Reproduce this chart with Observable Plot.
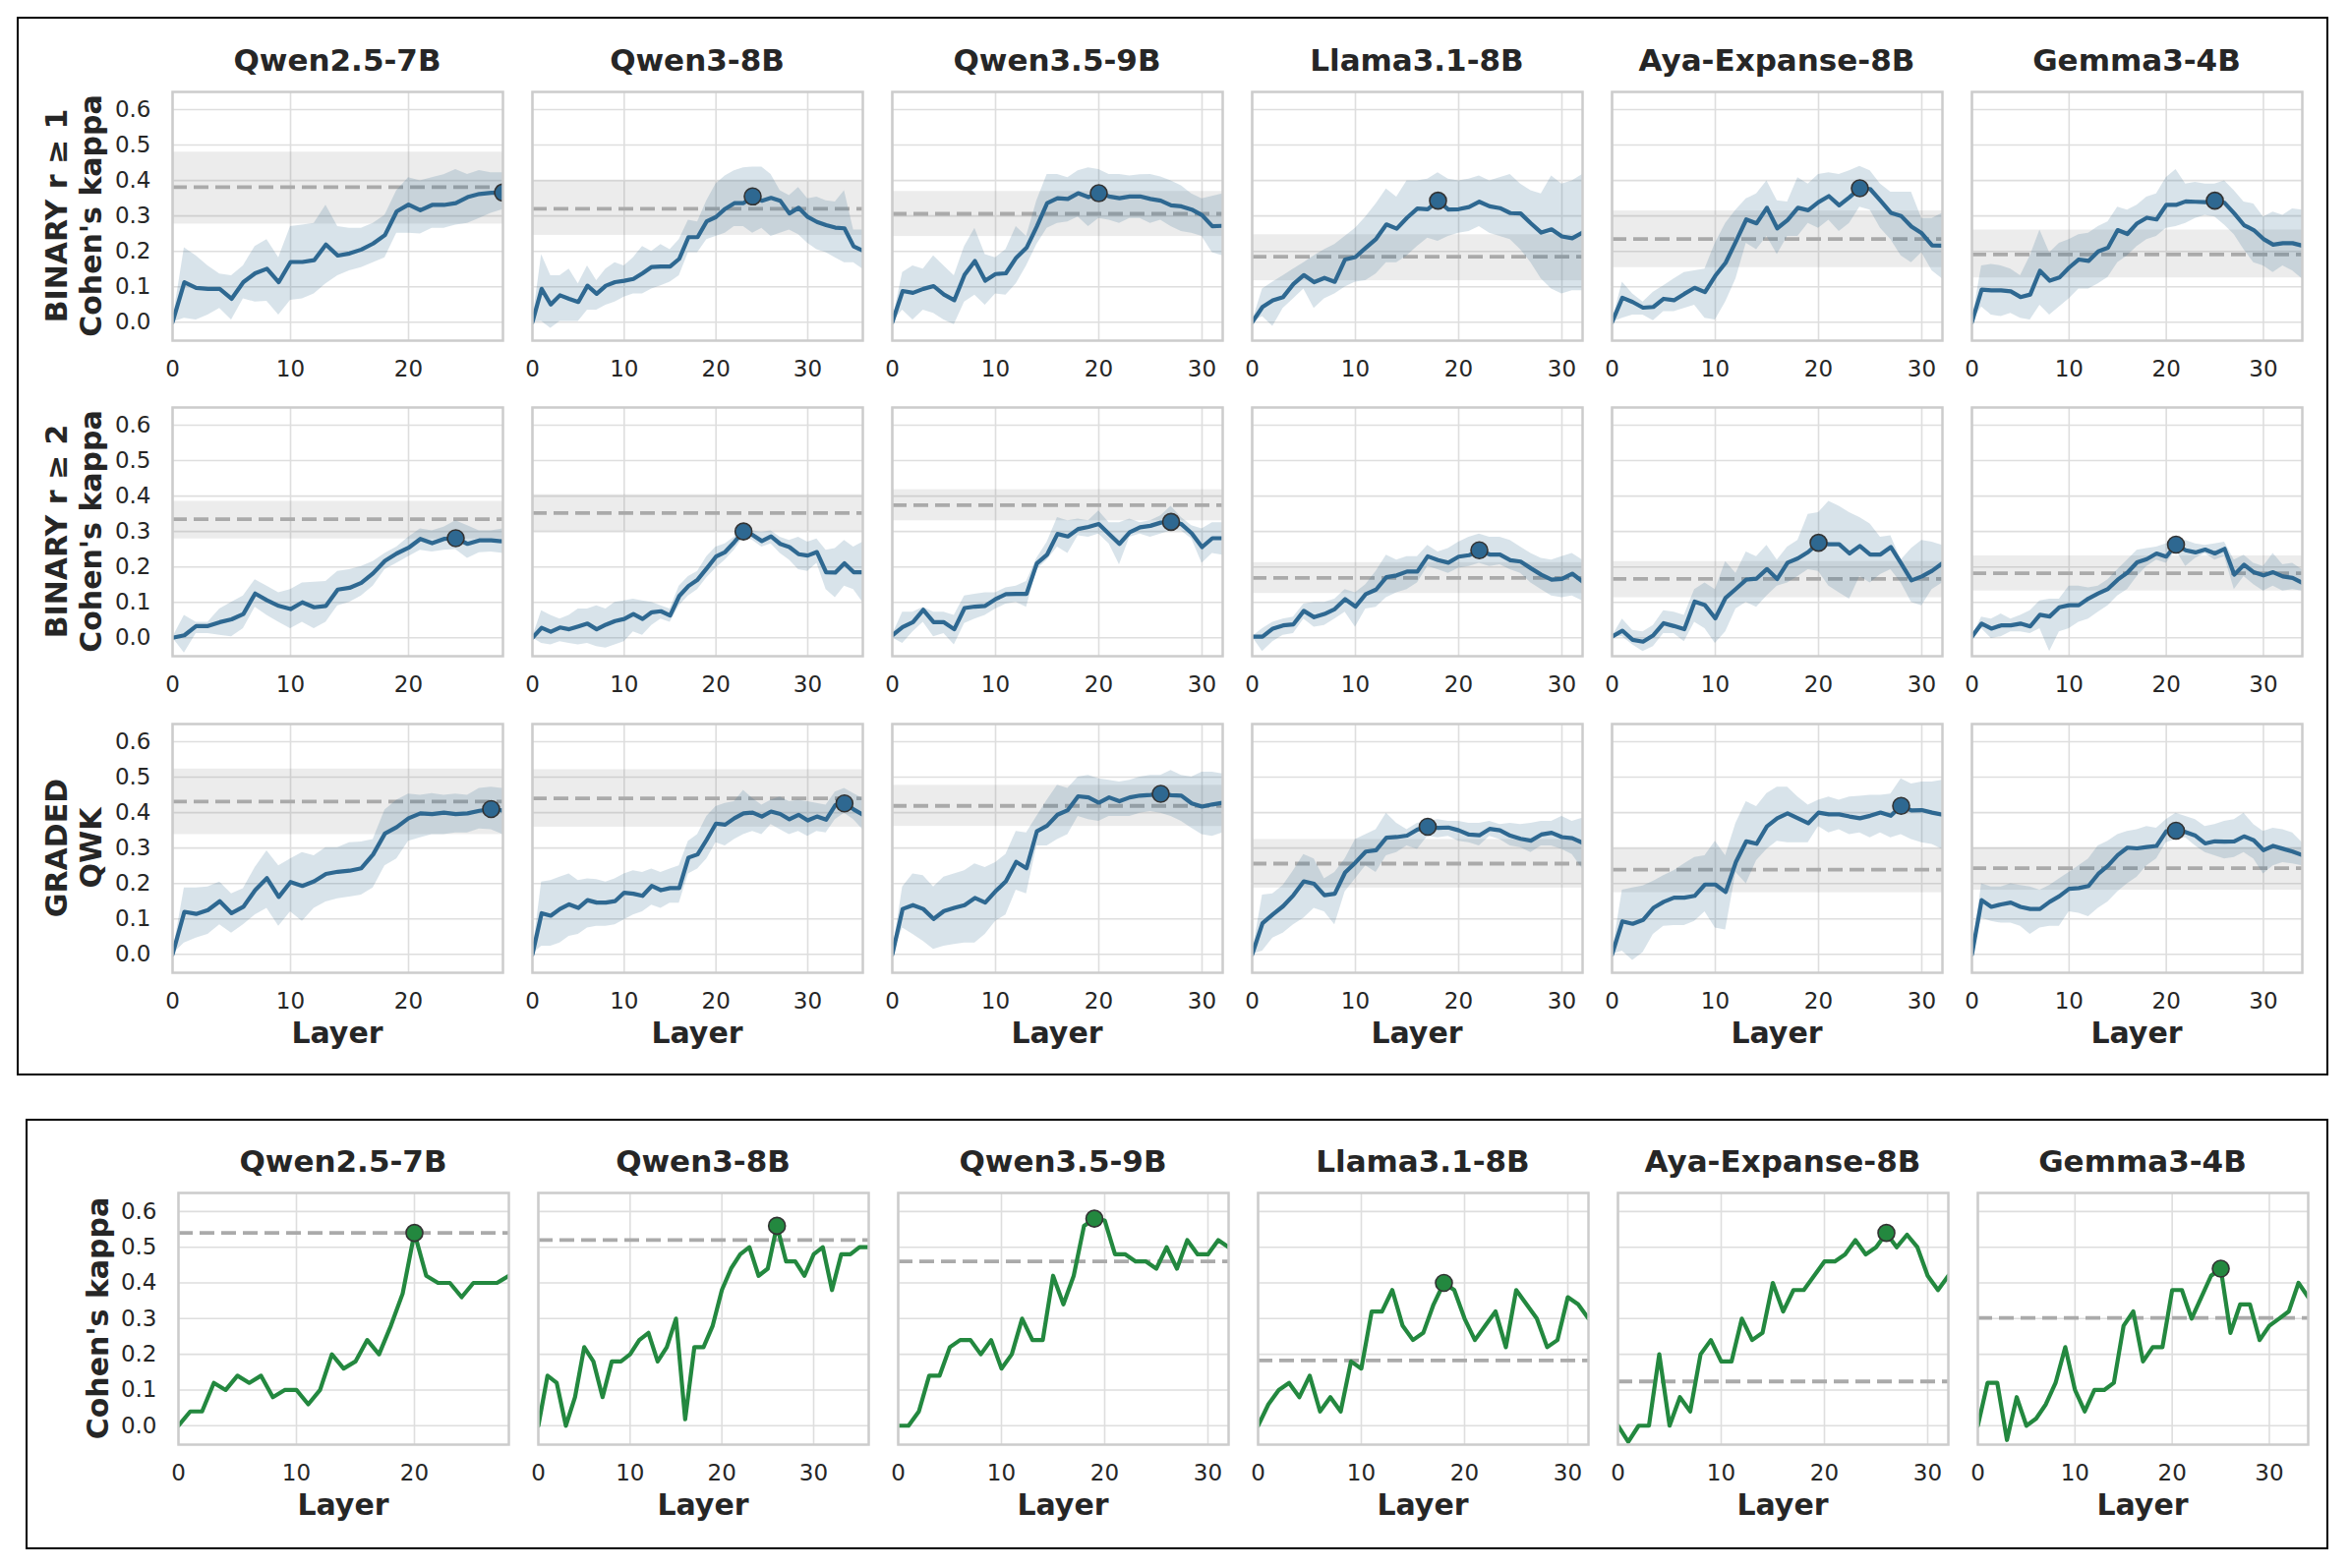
<!DOCTYPE html>
<html><head><meta charset="utf-8">
<script src="https://cdn.jsdelivr.net/npm/d3@7"></script>
<script src="https://cdn.jsdelivr.net/npm/@observablehq/plot@0.6"></script>
<style>
html,body{margin:0;padding:0;background:#fff;overflow:hidden;}
#root{position:relative;width:2390px;height:1595px;font-family:"DejaVu Sans",sans-serif;}
#root svg{position:absolute;}
</style></head><body><div id="root"></div>
<script>
// ---------------- data ----------------
const models = ["Qwen2.5-7B", "Qwen3-8B", "Qwen3.5-9B", "Llama3.1-8B", "Aya-Expanse-8B", "Gemma3-4B"];
const lastLayer = [28, 36, 32, 32, 32, 34];
const yTicks = [0, 0.1, 0.2, 0.3, 0.4, 0.5, 0.6];
const xTickValues = [0, 10, 20, 30];
const rowLabels = [["BINARY r \u2265 1", "Cohen's kappa"], ["BINARY r \u2265 2", "Cohen's kappa"], ["GRADED", "QWK"]];
const bottomLabel = "Cohen's kappa";
const xLabel = "Layer";

// Row 1: BINARY r >= 1
const b1Mean = [
 [0,.113,.097,.094,.094,.066,.113,.138,.151,.113,.17,.17,.175,.219,.188,.194,.205,.222,.246,.313,.332,.316,.331,.331,.336,.353,.362,.365,.366],
 [0,.094,.05,.076,.066,.057,.103,.08,.103,.113,.117,.122,.138,.156,.157,.157,.179,.24,.24,.285,.297,.32,.336,.336,.355,.343,.351,.343,.307,.323,.297,.283,.274,.267,.265,.214,.202],
 [0,.088,.083,.094,.102,.078,.062,.134,.173,.117,.136,.138,.182,.21,.27,.336,.35,.348,.364,.353,.364,.355,.35,.355,.355,.348,.343,.33,.327,.318,.302,.271,.272],
 [0,.043,.062,.071,.108,.133,.113,.125,.114,.177,.184,.21,.235,.276,.264,.295,.321,.319,.343,.318,.319,.325,.34,.327,.322,.308,.307,.279,.253,.262,.242,.237,.253],
 [0,.069,.057,.041,.043,.066,.062,.08,.097,.085,.131,.168,.228,.29,.279,.323,.265,.288,.323,.316,.339,.356,.33,.353,.378,.376,.343,.309,.3,.27,.251,.217,.216],
 [0,.092,.09,.09,.087,.071,.078,.145,.117,.126,.154,.177,.173,.2,.21,.26,.249,.279,.295,.29,.331,.331,.341,.34,.339,.343,.337,.307,.274,.26,.235,.219,.223,.223,.216]
];
const b1Lo = [
 [0,.011,.006,.02,.039,.006,.066,.057,.059,.02,.062,.066,.08,.108,.131,.145,.154,.168,.182,.251,.251,.249,.265,.265,.274,.279,.293,.307,.318],
 [0,.002,-.017,.002,.002,.002,.034,.034,.048,.057,.071,.08,.08,.094,.103,.113,.131,.196,.196,.233,.242,.251,.27,.27,.251,.265,.242,.251,.26,.247,.223,.205,.196,.182,.168,.168,.15],
 [0,.034,.006,.034,.025,.006,-.007,.057,.076,.048,.08,.076,.108,.159,.219,.265,.279,.283,.297,.27,.293,.288,.279,.293,.293,.279,.288,.27,.256,.251,.242,.196,.187],
 [0,.016,-.012,.039,.066,.094,.039,.066,.08,.099,.113,.117,.136,.168,.168,.187,.214,.237,.228,.242,.251,.256,.27,.251,.242,.233,.205,.168,.122,.094,.08,.089,.089],
 [0,.011,.02,.02,.004,.03,.03,.039,.048,.011,.006,.057,.122,.223,.205,.242,.191,.242,.242,.279,.265,.288,.256,.279,.325,.316,.265,.233,.187,.168,.196,.145,.122],
 [0,.043,.02,.016,.025,.011,.006,.048,.02,.043,.066,.094,.094,.108,.126,.168,.187,.214,.233,.242,.265,.27,.279,.293,.302,.297,.274,.247,.205,.168,.159,.14,.159,.145,.122]
];
const b1Hi = [
 [0,.21,.187,.159,.136,.131,.159,.214,.233,.182,.27,.274,.279,.33,.27,.265,.265,.279,.302,.371,.408,.399,.408,.416,.431,.417,.428,.422,.422],
 [0,.191,.131,.131,.15,.108,.159,.117,.15,.168,.159,.182,.214,.2,.219,.205,.233,.288,.283,.343,.39,.413,.427,.436,.438,.438,.417,.371,.357,.38,.348,.353,.343,.339,.371,.26,.26],
 [0,.14,.159,.15,.187,.159,.131,.214,.265,.191,.182,.205,.27,.242,.343,.417,.417,.408,.427,.436,.431,.417,.417,.413,.416,.417,.41,.399,.385,.362,.348,.355,.362],
 [0,.094,.113,.131,.15,.168,.187,.205,.219,.242,.265,.297,.334,.376,.353,.399,.399,.404,.422,.404,.399,.404,.413,.399,.408,.417,.39,.371,.362,.413,.39,.399,.417],
 [0,.113,.08,.057,.085,.103,.122,.14,.145,.15,.223,.279,.316,.348,.362,.399,.343,.339,.408,.39,.417,.422,.417,.427,.44,.427,.39,.367,.367,.367,.293,.293,.307],
 [0,.159,.163,.159,.15,.131,.187,.26,.196,.223,.233,.247,.251,.27,.283,.325,.316,.33,.353,.362,.408,.431,.39,.395,.39,.39,.399,.371,.339,.334,.297,.311,.302,.32,.316]
];
const b1Base = [0.381, 0.32, 0.306, 0.185, 0.235, 0.191];
const b1BaseLo = [0.277, 0.245, 0.242, 0.117, 0.154, 0.125];
const b1BaseHi = [0.48, 0.399, 0.369, 0.247, 0.314, 0.26];
const b1Best = [28, 24, 20, 18, 24, 25];

// Row 2: BINARY r >= 2
const b2Mean = [
 [0,.007,.033,.033,.044,.052,.067,.125,.106,.09,.081,.1,.086,.09,.136,.141,.155,.182,.217,.238,.254,.279,.267,.279,.281,.265,.275,.275,.272],
 [0,.028,.017,.029,.024,.032,.04,.024,.037,.047,.053,.067,.053,.072,.075,.063,.118,.146,.164,.196,.229,.242,.27,.3,.29,.273,.286,.265,.256,.236,.232,.242,.185,.184,.21,.185,.185],
 [.007,.03,.044,.079,.044,.044,.024,.084,.088,.09,.109,.123,.124,.124,.21,.235,.293,.286,.307,.313,.321,.293,.265,.298,.312,.316,.325,.327,.321,.295,.256,.281,.281],
 [.003,.003,.026,.035,.038,.076,.058,.067,.081,.109,.088,.123,.136,.171,.176,.187,.187,.23,.219,.212,.229,.233,.247,.235,.235,.219,.215,.196,.178,.164,.166,.181,.159],
 [.003,.02,-.006,-.011,.007,.041,.033,.024,.102,.092,.055,.113,.138,.164,.167,.194,.166,.212,.224,.242,.268,.264,.264,.238,.259,.235,.235,.256,.21,.162,.173,.189,.21],
 [.003,.04,.026,.035,.035,.04,.032,.065,.06,.086,.092,.092,.111,.125,.138,.164,.184,.213,.222,.238,.229,.263,.247,.241,.249,.238,.251,.178,.206,.185,.176,.185,.173,.169,.155]
];
const b2Lo = [
 [0,-.043,.012,.012,.007,.003,.026,.086,.063,.044,.026,.044,.026,.044,.09,.1,.118,.146,.192,.21,.229,.247,.242,.247,.249,.224,.24,.242,.238],
 [0,-.016,-.02,-.011,-.016,-.02,-.016,-.025,-.029,-.02,-.011,.017,.007,.035,.053,.044,.09,.118,.136,.169,.196,.219,.247,.284,.275,.256,.265,.238,.219,.192,.187,.21,.136,.113,.146,.136,.1],
 [0,-.016,.017,.044,.003,.012,-.02,.04,.053,.063,.081,.095,.1,.086,.192,.219,.256,.238,.288,.284,.293,.265,.206,.284,.293,.284,.293,.302,.302,.279,.21,.238,.233],
 [.003,-.039,-.011,.007,.012,.053,.03,.035,.053,.072,.03,.081,.086,.113,.127,.136,.155,.201,.192,.182,.196,.201,.21,.201,.206,.192,.182,.155,.136,.118,.113,.118,.104],
 [.003,.003,-.02,-.039,-.025,.012,.012,-.011,.044,.026,-.016,.017,.081,.1,.086,.118,.146,.155,.173,.192,.187,.146,.127,.109,.173,.155,.178,.192,.155,.1,.09,.136,.155],
 [.003,.026,-.002,.003,.017,.017,.012,.026,-.039,.017,.026,.044,.053,.072,.09,.118,.136,.173,.201,.219,.21,.247,.201,.224,.238,.219,.229,.136,.173,.15,.132,.146,.132,.136,.132]
];
const b2Hi = [
 [0,.063,.044,.044,.081,.1,.118,.164,.146,.127,.136,.155,.157,.159,.187,.192,.201,.215,.238,.256,.284,.307,.302,.312,.33,.316,.302,.302,.307],
 [0,.076,.063,.053,.063,.081,.081,.09,.081,.1,.104,.109,.104,.1,.09,.081,.146,.173,.187,.229,.256,.265,.284,.321,.302,.298,.302,.284,.275,.284,.27,.279,.247,.252,.275,.256,.27],
 [.007,.072,.072,.086,.072,.072,.063,.118,.123,.127,.127,.141,.146,.159,.224,.27,.339,.33,.335,.33,.358,.325,.325,.335,.325,.33,.344,.371,.339,.316,.307,.325,.325],
 [.003,.026,.044,.053,.058,.095,.1,.1,.109,.136,.127,.15,.187,.233,.219,.229,.229,.261,.242,.252,.27,.284,.293,.284,.284,.275,.256,.238,.224,.219,.229,.238,.219],
 [.003,.053,.021,.017,.035,.076,.072,.063,.136,.155,.136,.215,.182,.242,.229,.261,.219,.256,.275,.348,.353,.385,.371,.353,.339,.321,.284,.288,.219,.252,.275,.27,.261],
 [.003,.058,.053,.067,.053,.063,.076,.104,.109,.109,.146,.146,.141,.146,.164,.192,.219,.247,.252,.256,.265,.284,.275,.265,.261,.265,.27,.219,.233,.21,.201,.238,.206,.21,.192]
];
const b2Base = [0.335, 0.352, 0.374, 0.169, 0.166, 0.182];
const b2BaseLo = [0.279, 0.3, 0.33, 0.125, 0.113, 0.132];
const b2BaseHi = [0.385, 0.404, 0.418, 0.212, 0.215, 0.231];
const b2Best = [24, 23, 27, 22, 20, 21];

// Row 3: GRADED QWK
const grMean = [
 [0,.12,.114,.125,.15,.116,.134,.181,.215,.162,.204,.193,.206,.227,.233,.236,.243,.282,.341,.359,.384,.398,.396,.4,.396,.398,.405,.41,.406],
 [0,.116,.109,.128,.141,.131,.153,.146,.146,.15,.174,.171,.165,.193,.181,.187,.187,.273,.282,.324,.369,.366,.384,.398,.4,.389,.403,.396,.381,.394,.378,.389,.38,.421,.426,.409,.394],
 [0,.128,.139,.128,.1,.122,.131,.139,.159,.146,.178,.206,.261,.243,.347,.363,.394,.407,.446,.443,.428,.443,.432,.443,.448,.45,.453,.449,.448,.426,.417,.423,.428],
 [0,.088,.113,.136,.167,.206,.199,.167,.171,.231,.259,.29,.294,.329,.331,.335,.352,.36,.357,.358,.35,.338,.336,.354,.35,.335,.326,.321,.338,.343,.331,.328,.315],
 [0,.093,.086,.097,.131,.148,.16,.16,.165,.197,.197,.176,.261,.319,.312,.361,.384,.398,.384,.37,.4,.395,.395,.389,.384,.391,.4,.391,.419,.406,.407,.4,.394],
 [0,.153,.134,.141,.146,.134,.128,.128,.148,.164,.185,.187,.193,.227,.25,.28,.301,.299,.303,.306,.347,.349,.345,.335,.313,.319,.318,.319,.333,.322,.294,.306,.298,.29,.28]
];
const grLo = [
 [0,.032,.046,.056,.083,.06,.083,.111,.13,.079,.12,.093,.13,.148,.157,.162,.167,.187,.25,.269,.319,.329,.338,.338,.343,.343,.354,.352,.338],
 [0,.023,.023,.032,.051,.056,.074,.079,.079,.083,.097,.111,.12,.139,.13,.144,.144,.227,.241,.269,.315,.306,.324,.338,.347,.338,.366,.352,.338,.347,.333,.347,.343,.38,.398,.38,.352],
 [0,.074,.056,.037,.014,.023,.028,.032,.032,.056,.093,.111,.181,.171,.306,.306,.324,.338,.389,.38,.375,.389,.389,.389,.398,.403,.398,.389,.375,.356,.338,.333,.343],
 [0,.009,.046,.06,.083,.102,.13,.12,.083,.176,.213,.25,.231,.278,.287,.306,.296,.333,.329,.333,.319,.315,.306,.333,.324,.306,.301,.287,.306,.306,.296,.282,.241],
 [0,.009,-.017,.005,.056,.079,.081,.081,.093,.12,.074,.069,.231,.199,.264,.296,.319,.315,.315,.315,.361,.343,.352,.338,.343,.329,.343,.329,.338,.324,.315,.31,.296],
 [0,.102,.093,.088,.088,.079,.056,.074,.079,.079,.12,.116,.106,.13,.148,.176,.199,.218,.25,.269,.315,.324,.329,.306,.287,.278,.269,.273,.287,.269,.227,.25,.259,.255,.25]
];
const grHi = [
 [0,.187,.187,.19,.204,.171,.185,.245,.292,.25,.269,.287,.278,.301,.301,.315,.317,.324,.407,.435,.452,.449,.454,.449,.452,.449,.468,.472,.468],
 [0,.204,.208,.218,.227,.208,.213,.211,.204,.213,.227,.236,.231,.241,.231,.241,.25,.319,.338,.389,.417,.426,.431,.463,.44,.421,.435,.444,.431,.435,.431,.426,.421,.458,.468,.454,.44],
 [0,.19,.227,.222,.19,.218,.227,.236,.255,.245,.259,.282,.347,.343,.389,.435,.477,.468,.5,.505,.495,.491,.486,.491,.5,.505,.505,.519,.505,.5,.514,.514,.509],
 [0,.167,.171,.194,.236,.282,.269,.213,.231,.269,.324,.338,.352,.398,.37,.352,.37,.375,.38,.375,.375,.37,.37,.375,.366,.37,.366,.37,.375,.375,.389,.375,.384],
 [0,.181,.187,.193,.206,.222,.236,.255,.273,.278,.319,.278,.37,.431,.417,.454,.472,.472,.444,.421,.435,.444,.435,.444,.446,.449,.449,.452,.495,.481,.486,.486,.491],
 [0,.199,.19,.19,.199,.194,.19,.181,.194,.213,.231,.25,.269,.306,.319,.338,.347,.352,.361,.356,.38,.398,.389,.38,.361,.366,.375,.38,.398,.366,.347,.356,.352,.343,.315]
];
const grBase = [0.431, 0.44, 0.419, 0.256, 0.239, 0.243];
const grBaseLo = [0.338, 0.359, 0.361, 0.187, 0.174, 0.181];
const grBaseHi = [0.523, 0.521, 0.477, 0.324, 0.298, 0.301];
const grBest = [27, 34, 26, 17, 28, 21];

// Bottom panel: Cohen's kappa (single run)
const ckMean = [
 [0,.04,.04,.12,.1,.14,.12,.14,.08,.1,.1,.06,.1,.2,.16,.18,.24,.2,.28,.37,.54,.42,.4,.4,.36,.4,.4,.4,.42],
 [0,.14,.12,0,.08,.22,.18,.08,.18,.18,.2,.24,.26,.18,.22,.3,.018,.22,.22,.28,.38,.44,.48,.5,.42,.44,.56,.46,.46,.42,.48,.5,.38,.48,.48,.5,.5],
 [0,0,.04,.14,.14,.22,.24,.24,.2,.24,.16,.2,.3,.24,.24,.42,.34,.42,.56,.58,.575,.48,.48,.46,.46,.44,.5,.44,.52,.48,.48,.52,.5],
 [0,.06,.1,.12,.08,.14,.04,.08,.04,.18,.16,.32,.32,.38,.28,.24,.26,.34,.4,.38,.3,.24,.28,.32,.22,.38,.34,.3,.22,.24,.36,.34,.3],
 [0,-.045,0,0,.2,0,.08,.04,.2,.24,.18,.18,.3,.24,.26,.4,.32,.38,.38,.42,.46,.46,.48,.52,.48,.5,.54,.5,.535,.5,.42,.38,.42],
 [0,.12,.12,-.04,.08,0,.02,.06,.12,.22,.1,.04,.1,.1,.12,.28,.32,.18,.22,.22,.38,.38,.3,.36,.42,.44,.26,.34,.34,.24,.28,.3,.32,.4,.36]
];
const ckBase = [0.54, 0.52, 0.46, 0.183, 0.124, 0.302];
const ckBest = [20, 26, 19, 18, 26, 25];

// ---------------- styles / layout ----------------
const BLUE = "#2e6891";
const GREEN = "#23883f";
const TXT = "#262626";
const FONT = "DejaVu Sans";
const PANEL_W = 336;
const TOP_ROWS = [93, 414, 736];
const TOP_H = 253;
const BOT_TOP = 1213, BOT_H = 256;
const topLeft = c => 175 + 366 * c;
const botLeft = c => 181 + 366 * c;
const TOP_DOMAIN = [-0.052, 0.65];
const BOT_DOMAIN = [-0.053, 0.652];
const TITLE_SIZE = 31, LABEL_SIZE = 30, TICK_SIZE = "23px";

const root = document.getElementById("root");

function panel(o) {
  const ml = o.showY ? 80 : 4, mr = 6, mt = 6, mb = 50;
  const data = o.mean.map((m, i) => ({layer: i, mean: m, lo: o.lo ? o.lo[i] : null, hi: o.hi ? o.hi[i] : null}));
  const xt = xTickValues.filter(t => t <= o.n);
  const marks = [
    Plot.gridY(yTicks, {stroke: "#dedede", strokeOpacity: 1, strokeWidth: 1.6}),
    Plot.gridX(xt, {stroke: "#dedede", strokeOpacity: 1, strokeWidth: 1.6})
  ];
  if (o.baseLo != null) marks.push(Plot.rect([{lo: o.baseLo, hi: o.baseHi}], {y1: "lo", y2: "hi", fill: "#808080", fillOpacity: 0.15}));
  marks.push(Plot.ruleY([o.base], {stroke: "#aaaaaa", strokeWidth: 3.8, strokeDasharray: "15,7"}));
  if (o.lo) marks.push(Plot.areaY(data, {x: "layer", y1: "lo", y2: "hi", fill: o.color, fillOpacity: 0.19, clip: true}));
  marks.push(Plot.lineY(data, {x: "layer", y: "mean", stroke: o.color, strokeWidth: 4.2, clip: true}));
  marks.push(Plot.dot([data[o.best]], {x: "layer", y: "mean", r: 8.5, fill: o.color, stroke: "#333333", strokeWidth: 1.6, clip: true}));
  marks.push(Plot.frame({stroke: "#cccccc", strokeWidth: 2.5}));
  const svg = Plot.plot({
    width: PANEL_W + ml + mr,
    height: o.h + mt + mb,
    marginLeft: ml, marginRight: mr, marginTop: mt, marginBottom: mb,
    style: {fontFamily: FONT, fontSize: TICK_SIZE, color: TXT, background: "transparent", overflow: "visible"},
    x: {domain: [0, o.n], ticks: xt, tickSize: 0, tickPadding: 20, label: null},
    y: {domain: o.yDomain, ticks: yTicks, tickSize: 0, tickPadding: 22, label: null,
        tickFormat: d3.format(".1f"), axis: o.showY ? "left" : null},
    marks
  });
  svg.style.left = (o.left - ml) + "px";
  svg.style.top = (o.top - mt) + "px";
  root.appendChild(svg);
}

// top 3 rows
const topRows = [
  [b1Mean, b1Lo, b1Hi, b1Base, b1BaseLo, b1BaseHi, b1Best],
  [b2Mean, b2Lo, b2Hi, b2Base, b2BaseLo, b2BaseHi, b2Best],
  [grMean, grLo, grHi, grBase, grBaseLo, grBaseHi, grBest]
];
topRows.forEach(([mean, lo, hi, base, bLo, bHi, best], r) => {
  models.forEach((m, c) => {
    panel({n: lastLayer[c], mean: mean[c], lo: lo[c], hi: hi[c], base: base[c], baseLo: bLo[c], baseHi: bHi[c],
      best: best[c], color: BLUE, yDomain: TOP_DOMAIN, left: topLeft(c), top: TOP_ROWS[r], h: TOP_H, showY: c === 0});
  });
});
models.forEach((m, c) => {
  panel({n: lastLayer[c], mean: ckMean[c], lo: null, hi: null, base: ckBase[c], baseLo: null, baseHi: null,
    best: ckBest[c], color: GREEN, yDomain: BOT_DOMAIN, left: botLeft(c), top: BOT_TOP, h: BOT_H, showY: c === 0});
});

// ---------------- overlay: boxes and labels ----------------
const NS = "http://www.w3.org/2000/svg";
const ov = document.createElementNS(NS, "svg");
ov.setAttribute("width", 2390); ov.setAttribute("height", 1595);
ov.style.left = "0px"; ov.style.top = "0px";
ov.setAttribute("font-family", FONT);
function el(tag, attrs, text) {
  const e = document.createElementNS(NS, tag);
  for (const k in attrs) e.setAttribute(k, attrs[k]);
  if (text != null) e.textContent = text;
  ov.appendChild(e);
  return e;
}
el("rect", {x: 18, y: 18, width: 2349, height: 1075, fill: "none", stroke: "#000", "stroke-width": 2});
el("rect", {x: 27, y: 1139, width: 2340, height: 436, fill: "none", stroke: "#000", "stroke-width": 2});
models.forEach((m, c) => {
  el("text", {x: topLeft(c) + PANEL_W / 2, y: 72, "text-anchor": "middle", "font-size": TITLE_SIZE, "font-weight": "bold", fill: TXT}, m);
  el("text", {x: botLeft(c) + PANEL_W / 2, y: 1192, "text-anchor": "middle", "font-size": TITLE_SIZE, "font-weight": "bold", fill: TXT}, m);
  el("text", {x: topLeft(c) + PANEL_W / 2, y: TOP_ROWS[2] + TOP_H + 72, "text-anchor": "middle", "font-size": LABEL_SIZE, "font-weight": "bold", fill: TXT}, xLabel);
  el("text", {x: botLeft(c) + PANEL_W / 2, y: BOT_TOP + BOT_H + 72, "text-anchor": "middle", "font-size": LABEL_SIZE, "font-weight": "bold", fill: TXT}, xLabel);
});
rowLabels.forEach((lines, r) => {
  const cy = TOP_ROWS[r] + TOP_H / 2;
  [57, 92].forEach((cx, j) => {
    el("text", {transform: `translate(${cx},${cy}) rotate(-90)`, "text-anchor": "middle", dy: "0.35em",
      "font-size": LABEL_SIZE, "font-weight": "bold", fill: TXT}, lines[j]);
  });
});
el("text", {transform: `translate(99,${BOT_TOP + BOT_H / 2}) rotate(-90)`, "text-anchor": "middle", dy: "0.35em",
  "font-size": LABEL_SIZE, "font-weight": "bold", fill: TXT}, bottomLabel);
root.insertBefore(ov, root.firstChild);
</script></body></html>
